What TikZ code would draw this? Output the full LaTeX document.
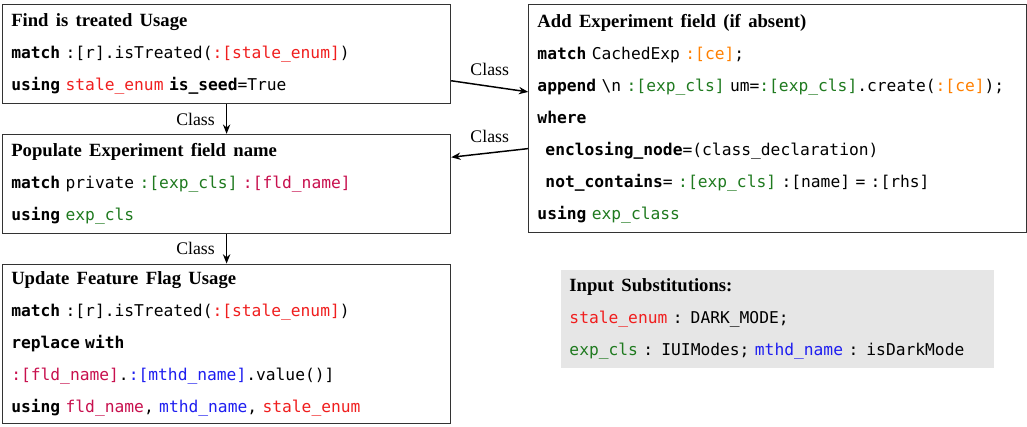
\documentclass[tikz,border=0pt]{standalone}
\usepackage{fontspec}
\setmainfont{Liberation Serif}
\setmonofont{DejaVu Sans Mono}
\usetikzlibrary{arrows.meta, positioning}
\definecolor{holered}{HTML}{F01E1E}
\definecolor{holecrimson}{HTML}{C8104E}
\definecolor{holegreen}{HTML}{1F7A1F}
\definecolor{holeblue}{HTML}{1E1EF0}
\definecolor{holeorange}{HTML}{FF8000}
\definecolor{boxline}{HTML}{333333}
\definecolor{subsbg}{HTML}{E6E6E6}

\newcommand{\kw}[1]{\textbf{#1}}
\newcommand{\ruletitle}[1]{{\fontsize{14}{24}\selectfont\rmfamily\bfseries\spaceskip=5.5pt #1}}

\begin{document}
\begin{tikzpicture}[
  x=0.75pt, y=-0.75pt,
  >={Stealth[length=7pt, width=5.5pt]},
  every node/.style={font=\fontsize{12.2}{24}\selectfont\ttfamily},
  rulebox/.style={draw=boxline, line width=0.9pt, fill=white, align=left,
                  inner xsep=6.5pt, inner ysep=0pt},
  shortbox/.style={rulebox, text width=323pt, minimum height=74.25pt},
  link/.style={->, line width=1.1pt},
  linklabel/.style={font=\fontsize{13.3}{16}\selectfont\rmfamily}
]
  \useasboundingbox (0,0) rectangle (1027,427);

  \node[shortbox, anchor=north west] (find) at (2,4)
    {\ruletitle{Find is treated Usage}\\
     \kw{match} :[r].isTreated(\textcolor{holered}{:[stale\_enum]})\\
     \kw{using} \textcolor{holered}{stale\_enum} \kw{is\_seed}=True};
  \node[shortbox, below=22.2pt of find] (populate)
    {\ruletitle{Populate Experiment field name}\\
     \kw{match} private \textcolor{holegreen}{:[exp\_cls]} \textcolor{holecrimson}{:[fld\_name]}\\
     \kw{using} \textcolor{holegreen}{exp\_cls}};
  \node[rulebox, text width=323pt, minimum height=119.5pt, below=22.2pt of populate] (update)
    {\ruletitle{Update Feature Flag Usage}\\
     \kw{match} :[r].isTreated(\textcolor{holered}{:[stale\_enum]})\\
     \kw{replace with}\\
     \textcolor{holecrimson}{:[fld\_name]}.\textcolor{holeblue}{:[mthd\_name]}.value()]\\
     \kw{using} \textcolor{holecrimson}{fld\_name}, \textcolor{holeblue}{mthd\_name}, \textcolor{holered}{stale\_enum}};

  \node[rulebox, text width=360.5pt, minimum height=171pt,
        right=57.75pt of find.north east, anchor=north west] (addfield)
    {\ruletitle{Add Experiment field (if absent)}\\
     \kw{match} CachedExp \textcolor{holeorange}{:[ce]};\\
     \kw{append} \textbackslash n \textcolor{holegreen}{:[exp\_cls]} um=\textcolor{holegreen}{:[exp\_cls]}.create(\textcolor{holeorange}{:[ce]});\\
     \kw{where}\\
     \hspace*{6pt}\kw{enclosing\_node}=(class\_declaration)\\
     \hspace*{6pt}\kw{not\_contains}= \textcolor{holegreen}{:[exp\_cls]} :[name] = :[rhs]\\
     \kw{using} \textcolor{holegreen}{exp\_class}};

  % substitutions for this run
  \node[rulebox, draw=none, fill=subsbg, text width=311.75pt, minimum height=73.5pt,
        below=27pt of addfield.south west, anchor=north west, xshift=24pt] (subs)
    {\ruletitle{Input Substitutions:}\\
     \textcolor{holered}{stale\_enum} : DARK\_MODE;\\
     \textcolor{holegreen}{exp\_cls} : IUIModes; \textcolor{holeblue}{mthd\_name} : isDarkMode};

  \draw[link] (find) -- node[linklabel, left=5pt] {Class} (populate);
  \draw[link] (populate) -- node[linklabel, left=5pt] {Class} (update);
  \draw[link] ([yshift=-20pt]find.east) -- node[linklabel, above=4pt] {Class} ([yshift=20pt]addfield.west);
  \draw[link] ([yshift=-22.5pt]addfield.west) -- node[linklabel, above=4pt] {Class} ([yshift=20pt]populate.east);
\end{tikzpicture}
\end{document}
